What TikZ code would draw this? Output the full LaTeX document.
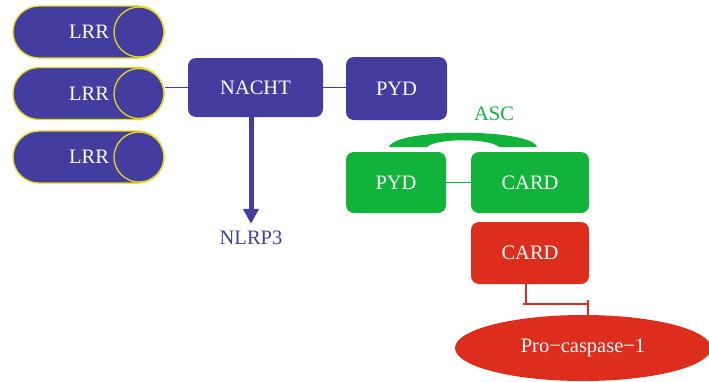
\documentclass[tikz,border=0pt]{standalone}
\usepackage{fontspec}
\setmainfont{Liberation Serif}
\usepackage{xcolor}
\usetikzlibrary{shapes.geometric,arrows.meta}
\definecolor{nlrpblue}{RGB}{66,61,159}
\definecolor{ascgreen}{RGB}{18,179,58}
\definecolor{casred}{RGB}{220,45,29}
\definecolor{lrryellow}{RGB}{232,214,32}

\begin{document}
\begin{tikzpicture}[x=1pt, y=-1pt,
    every node/.style={font=\fontsize{20.5}{24}\selectfont, text=white, inner sep=2pt},
    lrrpill/.style={draw=lrryellow, line width=1.3pt, fill=nlrpblue, rounded corners=26pt,
        minimum width=151pt, minimum height=52pt},
    lrrcap/.style={circle, draw=lrryellow, line width=1.3pt, minimum size=50pt, inner sep=0pt, anchor=east},
    dombox/.style={rounded corners=8pt, minimum height=61pt},
    bluebox/.style={dombox, fill=nlrpblue},
    greenbox/.style={dombox, fill=ascgreen},
    redbox/.style={dombox, fill=casred},
    blueline/.style={nlrpblue, line width=1.3pt},
    greenline/.style={ascgreen, line width=1.3pt},
    redline/.style={casred, line width=1.3pt}]
  \useasboundingbox (0,0) rectangle (709,381);
  % NLRP3 side
  \node[lrrpill] (lrr1) at (88.5,32) {\hspace*{1pt}LRR};
  \node[lrrpill] (lrr2) at (88.5,93.5) {\hspace*{1pt}LRR};
  \node[lrrpill] (lrr3) at (88.5,157) {\hspace*{1pt}LRR};
  \node[lrrcap] (cap1) at (lrr1.east) {};
  \node[lrrcap] (cap2) at (lrr2.east) {};
  \node[lrrcap] (cap3) at (lrr3.east) {};
  \node[bluebox, minimum width=135pt, minimum height=59pt] (nacht) at (255.5,87.5) {NACHT};
  \node[bluebox, minimum width=101pt, minimum height=63pt] (pyd) at (396.5,88.5) {PYD};
  \node[text=nlrpblue] (nlrp) at (251,238) {NLRP3};
  \draw[blueline] (lrr2.east |- nacht.west) -- (nacht.west);
  \draw[blueline] (nacht.east) -- (nacht.east -| pyd.west);
  \draw[nlrpblue, line width=5pt, -{Triangle[width=15pt,length=15pt]}, shorten >=5pt]
    (nlrp.north |- nacht.south) -- (nlrp.north);
  % ASC
  \node[greenbox, minimum width=100pt] (gpyd) at (396,182.5) {PYD};
  \node[greenbox, minimum width=118pt] (gcard) at (530,182.5) {CARD};
  \node[text=ascgreen] (asc) at (494,114) {ASC};
  \draw[greenline] (gpyd.east) -- (gcard.west);
  \fill[ascgreen] (389,147) .. controls (395,128) and (531,128) .. (537,147)
    -- (499,147) .. controls (490,138) and (436,138) .. (427,147) -- cycle;
  % caspase
  \node[redbox, minimum width=118pt, minimum height=62pt] (rcard) at (530,253) {CARD};
  \node[ellipse, fill=casred, minimum width=256pt, minimum height=66pt] (procasp) at (583,348) {Pro\textminus caspase\textminus 1};
  \coordinate (tbar) at (526,304);
  \coordinate (tend) at (588,316);
  \draw[redline] (rcard.south -| tbar) -- (tbar);
  \draw[redline] ([xshift=-3pt]tbar) -- (tbar -| tend);
  \draw[redline] ([yshift=4pt]tbar -| tend) -- (tend |- procasp.north);
\end{tikzpicture}
\end{document}
